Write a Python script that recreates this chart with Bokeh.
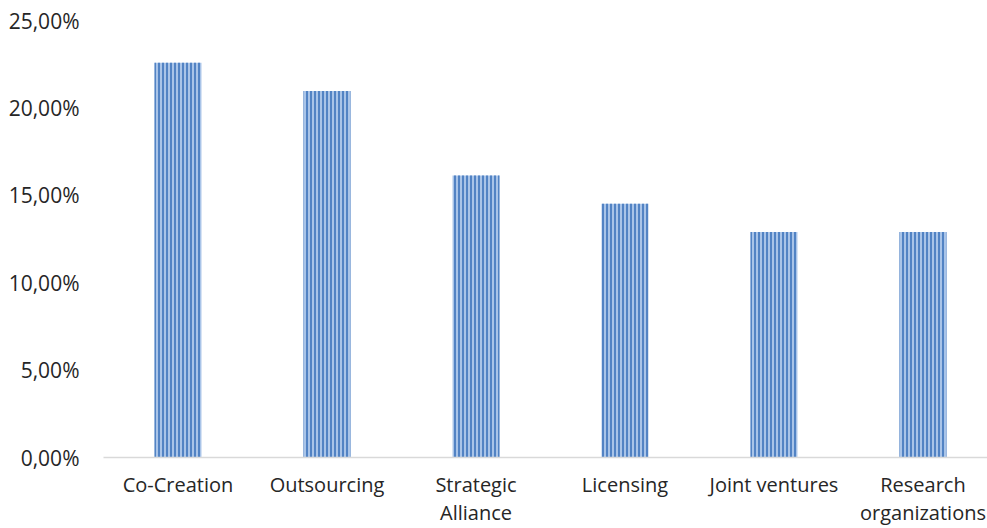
from bokeh.plotting import figure
from bokeh.models import FixedTicker, ColumnDataSource, Range1d
from bokeh.embed import file_html
from bokeh.resources import INLINE

categories = ["Co-Creation", "Outsourcing", "Strategic\nAlliance", "Licensing", "Joint ventures", "Research\norganizations"]
values = [22.58, 20.97, 16.13, 14.52, 12.90, 12.90]
y_ticks = [0, 5, 10, 15, 20, 25]
y_tick_labels = ["0,00%", "5,00%", "10,00%", "15,00%", "20,00%", "25,00%"]

x_pos = [i + 0.5 for i in range(len(categories))]
src = ColumnDataSource(dict(x=x_pos, val=values))

# frame spans 884 px, each category slot is ~149 px -> range end 5.933 (last slot partly off-canvas)
p = figure(width=987, height=528, x_range=Range1d(0, 5.933),
           y_range=Range1d(0, 25), output_backend="svg", toolbar_location=None,
           min_border_left=103, min_border_right=0, min_border_top=20, min_border_bottom=71)
p.vbar(x="x", top="val", width=0.315, source=src, fill_color="#a9c4e8", line_color=None,
       hatch_pattern="vertical_line", hatch_color="#5283c4", hatch_scale=4, hatch_weight=2)

p.outline_line_color = None
p.xgrid.grid_line_color = None
p.ygrid.grid_line_color = None

font = "Open Sans"
p.yaxis.ticker = FixedTicker(ticks=y_ticks)
p.yaxis.major_label_overrides = {t: l for t, l in zip(y_ticks, y_tick_labels)}
p.yaxis.axis_line_color = None
p.yaxis.major_tick_line_color = None
p.yaxis.minor_tick_line_color = None
p.yaxis.major_label_text_font = font
p.yaxis.major_label_text_font_size = "21px"
p.yaxis.major_label_text_color = "#262626"
p.yaxis.major_label_standoff = 18

p.xaxis.ticker = FixedTicker(ticks=x_pos)
p.xaxis.major_label_overrides = {x: c for x, c in zip(x_pos, categories)}
p.xaxis.axis_line_color = "#d9d9d9"
p.xaxis.axis_line_width = 1.5
p.xaxis.major_tick_line_color = None
p.xaxis.minor_tick_line_color = None
p.xaxis.major_label_text_font = font
p.xaxis.major_label_text_font_size = "20px"
p.xaxis.major_label_text_line_height = 1.05
p.xaxis.major_label_text_color = "#262626"
p.xaxis.major_label_standoff = 7

open("out.html", "w").write(file_html(p, INLINE))
